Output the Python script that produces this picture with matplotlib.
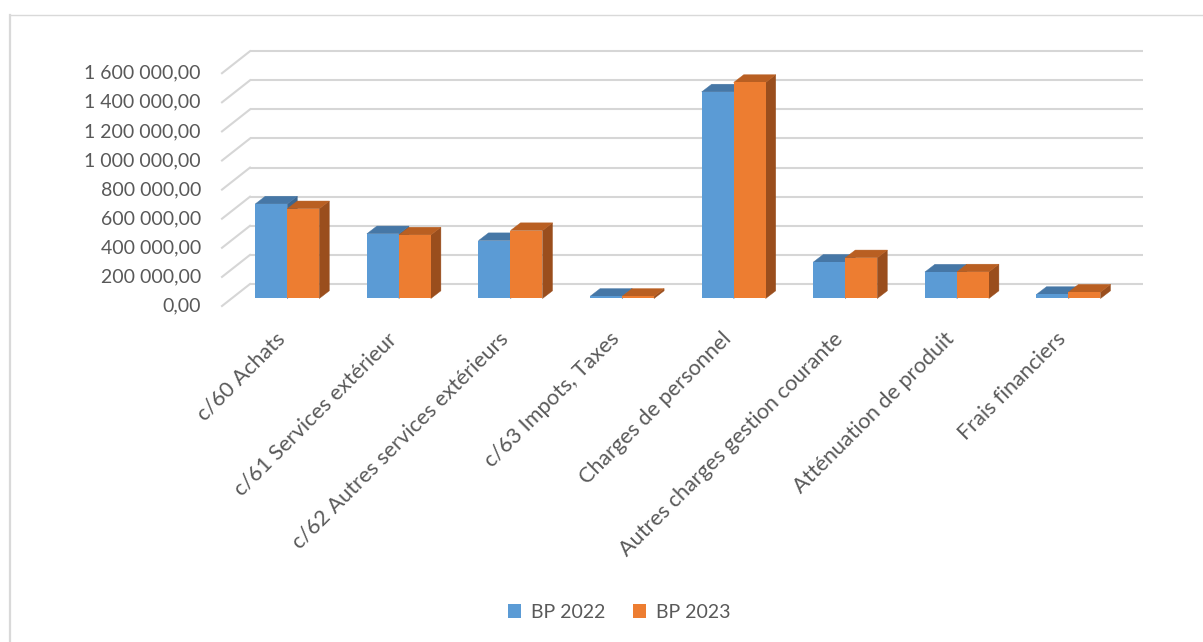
import matplotlib
matplotlib.use("Agg")
import matplotlib.pyplot as plt
from matplotlib.patches import Polygon, Patch
from matplotlib.transforms import offset_copy

# ---------------- data ----------------
categories = ["c/60 Achats", "c/61 Services extérieur", "c/62 Autres services extérieurs",
              "c/63 Impots, Taxes", "Charges de personnel", "Autres charges gestion courante",
              "Atténuation de produit", "Frais financiers"]
bp2022 = [650000, 445000, 398000, 15000, 1420000, 250000, 182000, 28000]
bp2023 = [617000, 437000, 467000, 15000, 1485000, 280000, 183000, 44000]
series_names = ["BP 2022", "BP 2023"]
yticks = [0, 200000, 400000, 600000, 800000, 1000000, 1200000, 1400000, 1600000]

# ---------------- layout (pixels) ----------------
W, H = 1203, 642
px_cat = 111.6              # pixels per category
px_val = 29.1 / 200000      # pixels per value unit
x0_px = 231.5               # left edge of plot at bar plane
y0_px = 298.5               # value 0 at bar plane
# depth offsets (pixels, screen: +x right, +y up)
back_dx, back_dy = 18.5, 14.5
front_dx, front_dy = -9.5, -7.5
bar_ddx, bar_ddy = 10.0, 7.7
bar_w_px = 32.0

def cx(px):  # pixel distance -> category units
    return px / px_cat
def cy(px):  # pixel distance -> value units
    return px / px_val

fig = plt.figure(figsize=(W / 100, H / 100), dpi=100)
ax = fig.add_axes([0, 0, 1, 1])
ax.set_xlim(-0.5 - cx(x0_px), -0.5 + cx(W - x0_px))
ax.set_ylim(-cy(H - y0_px), cy(y0_px))
ax.axis("off")

font = ["Lato", "DejaVu Sans"]
tcol = "#595959"
grid_col = "#d6d6d6"

# chart area border
fig.add_artist(plt.Line2D([10 / W, 10 / W], [0, 1 - 15 / H], color="#d9d9d9", lw=1.6,
                          transform=fig.transFigure))
fig.add_artist(plt.Line2D([10 / W, 1], [1 - 15 / H, 1 - 15 / H], color="#d9d9d9", lw=1.0,
                          transform=fig.transFigure))

n = len(categories)
xl = -0.5
xr = n - 0.5
for v in yticks:
    ax.plot([xl + cx(back_dx), xr + cx(back_dx)], [v + cy(back_dy)] * 2,
            color=grid_col, lw=1.5, zorder=1, solid_capstyle="butt")
    ax.plot([xl + cx(front_dx), xl + cx(back_dx)], [v + cy(front_dy), v + cy(back_dy)],
            color=grid_col, lw=1.5, zorder=1)
    lab = f"{v:,.2f}".replace(",", " ").replace(".", ",")
    tr = offset_copy(ax.transData, fig=fig, x=-21, y=0, units="dots")
    ax.text(xl + cx(front_dx), v + cy(front_dy), lab, transform=tr, ha="right", va="center",
            fontsize=14, color=tcol, family=font)

# bars
bw = cx(bar_w_px)
ddx, ddy = cx(bar_ddx), cy(bar_ddy)
styles = [("#5B9BD5", "#4677A6", "#3D6790"), ("#ED7D31", "#B95F22", "#9A4E1D")]
z = 3
for i in range(n):
    for k, vals in enumerate([bp2022, bp2023]):
        h = vals[i]
        left = i - bw + k * bw
        front, top, side = styles[k]
        ax.add_patch(Polygon([(left + bw, 0), (left + bw + ddx, ddy), (left + bw + ddx, h + ddy),
                              (left + bw, h)], closed=True, fc=side, ec=side, lw=0.3, zorder=z))
        ax.add_patch(Polygon([(left, h), (left + bw, h), (left + bw + ddx, h + ddy),
                              (left + ddx, h + ddy)], closed=True, fc=top, ec=top, lw=0.3, zorder=z))
        ax.bar([left], [h], width=bw, align="edge", color=front, edgecolor="none", zorder=z + 0.5)
        z += 1

# category labels
for i, c in enumerate(categories):
    tr = offset_copy(ax.transData, fig=fig, x=4, y=-30, units="dots")
    ax.text(i + cx(front_dx), cy(front_dy), c, transform=tr, rotation=45,
            rotation_mode="anchor", ha="right", va="center", fontsize=15.6, color=tcol, family=font)

handles = [Patch(fc=styles[0][0], ec="none"), Patch(fc=styles[1][0], ec="none")]
fig.legend(handles, series_names, loc="center", bbox_to_anchor=(619 / W, 1 - 612 / H),
           ncol=2, frameon=False, handlelength=0.7, handleheight=0.7, handletextpad=0.5,
           columnspacing=1.4, prop={"family": font, "size": 14}, labelcolor=tcol)

fig.savefig("out.png", dpi=100, facecolor="white")
